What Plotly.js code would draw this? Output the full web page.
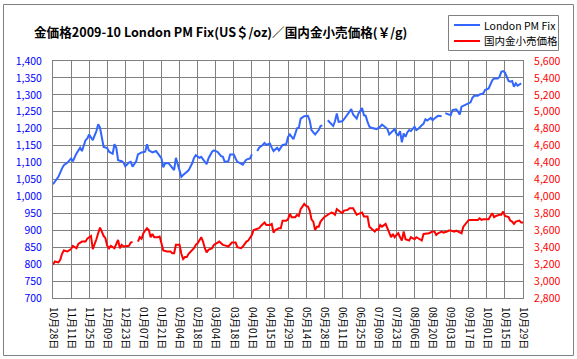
<!DOCTYPE html>
<html><head><meta charset="utf-8">
<script src="https://cdn.plot.ly/plotly-3.0.1.min.js"></script>
<style>html,body{margin:0;padding:0;background:#fff;}#chart{width:577px;height:359px;}</style>
</head><body><div id="chart"></div>
<script>
// x axis: trading-day index, one label every 10 days
const tickLabels = ["10月28日","11月11日","11月25日","12月09日","12月23日","01月07日","01月21日","02月04日","02月18日","03月04日","03月18日","04月01日","04月15日","04月29日","05月14日","05月28日","06月11日","06月25日","07月09日","07月23日","08月06日","08月20日","09月03日","09月17日","10月01日","10月15日","10月29日"];

// London PM Fix (US$/oz): [trading day, price]; null = no fix
const londonFix = [
[0,1036],[3,1058],[5,1083],[6,1092],[8,1100],[10,1112],[11,1104],[13,1127],[15,1144],[16,1134],
[18,1166],[19,1171],[20,1183],[22,1166],[24,1193],[25,1213],[26,1203],[27,1176],[28,1146],[30,1143],
[31,1132],[33,1126],[34,1154],[35,1144],[36,1107],[38,1104],[39,1100],[40,1089],[42,1100],[43,1102],
[44,1088],[46,1104],[47,1124],[49,1130],[51,1132],[52,1154],[53,1136],[55,1130],[57,1134],[58,1127],
[60,1112],[61,1086],[62,1098],[64,1098],[65,1091],[67,1078],[68,1114],[69,1093],[71,1058],[72,1063],
[74,1071],[75,1077],[77,1098],[78,1114],[79,1122],[81,1114],[82,1117],[84,1104],[85,1095],[86,1112],
[88,1132],[89,1136],[91,1132],[93,1119],[94,1117],[95,1102],[97,1104],[98,1124],[100,1124],[101,1112],
[102,1102],[103,1100],[105,1094],[106,1102],[107,1109],[109,1112],[110,1124],[111,null],[113,1134],[114,1144],
[116,1152],[117,1158],[118,1152],[120,1156],[121,1144],[122,1134],[124,1144],[125,1136],[127,1152],[129,1154],
[130,1176],[131,1183],[133,1169],[134,1186],[135,1201],[136,1203],[137,1230],[139,1237],[141,1238],[142,1225],
[143,1196],[144,1189],[145,1183],[147,1196],[148,1208],[149,1210],[150,null],[152,1225],[153,1220],[155,1208],
[156,1222],[157,1245],[158,1220],[160,1222],[161,1228],[162,1235],[164,1251],[165,1258],[166,1242],[168,1230],
[169,1245],[171,1261],[172,1240],[173,1238],[174,1220],[175,1206],[176,1203],[178,1199],[179,1199],[181,1206],
[182,1212],[183,1208],[185,1199],[186,1183],[187,1189],[189,1199],[190,1185],[191,1181],[192,1193],[193,1160],
[194,1186],[195,1176],[196,1189],[197,1196],[198,1193],[200,1206],[201,1196],[202,1199],[204,1210],[205,1215],
[206,1228],[207,1224],[209,1232],[210,1225],[211,1230],[213,1238],[215,1237],[216,null],[217,1246],[219,1242],
[220,1240],[221,1255],[223,1257],[224,1251],[225,1242],[226,1265],[228,1271],[230,1275],[231,1278],[232,1291],
[233,1297],[235,1297],[236,1301],[238,1304],[239,1314],[241,1319],[242,1331],[243,1343],[244,1348],[246,1348],
[247,1353],[248,1368],[249,1370],[250,1366],[252,1341],[253,1339],[254,1341],[255,1324],[256,1334],[257,1327],
[259,1334]
];

// 国内金小売価格 (¥/g): [trading day, price]; null = no price
const retailPrice = [
[0,3192],[1,3231],[3,3220],[4,3251],[5,3322],[6,3361],[8,3349],[10,3377],[11,3416],[13,3388],
[14,3440],[16,3467],[18,3467],[19,3502],[20,3518],[21,3533],[22,3377],[23,3428],[24,3494],[25,3565],
[26,3632],[27,3585],[28,3533],[29,3506],[30,3416],[31,3388],[32,3416],[34,3388],[35,3440],[36,3487],
[37,3388],[38,3428],[39,3408],[40,3408],[42,3416],[43,3455],[44,3463],[45,null],[47,3467],[48,3518],
[49,3500],[50,3565],[51,3597],[52,3624],[53,3604],[54,3518],[55,3557],[56,3518],[58,3518],[59,3526],
[60,3447],[61,3361],[63,3349],[65,3349],[66,3330],[67,3330],[68,3428],[70,3428],[71,3322],[72,3259],
[73,3283],[74,3283],[75,3322],[77,3361],[78,3388],[79,3428],[80,3447],[82,3518],[83,3467],[84,3388],
[85,3338],[86,3369],[88,3388],[89,3428],[90,3440],[92,3467],[93,3447],[94,3428],[96,3416],[97,3408],
[99,3455],[101,3455],[102,3400],[104,3388],[105,3408],[107,3467],[108,3479],[110,3545],[111,3604],[113,3612],
[114,3624],[115,3651],[117,3691],[118,3663],[120,3663],[121,3675],[122,3573],[123,3604],[125,3624],[126,3624],
[127,3714],[129,3714],[130,3730],[131,3795],[132,3755],[134,3755],[135,3783],[136,3769],[137,3849],[139,3911],
[140,3888],[141,3880],[142,3833],[143,3730],[144,3703],[145,3604],[146,3643],[147,3643],[148,3703],[150,3755],
[152,3783],[154,3810],[155,3802],[156,3783],[157,3849],[159,3822],[160,3802],[161,3833],[163,3841],[164,3861],
[166,3861],[167,3822],[168,3783],[170,3802],[171,3810],[172,3763],[174,3763],[175,3643],[176,3624],[178,3585],
[179,3612],[180,3604],[181,3663],[182,3643],[184,3675],[185,3624],[186,3585],[187,3518],[188,3557],[189,3518],
[190,3545],[191,3565],[192,3518],[193,3479],[194,3585],[195,3494],[197,3479],[198,3518],[200,3494],[201,3518],
[202,3506],[204,3479],[205,3557],[207,3565],[208,3565],[210,3585],[211,3585],[212,3545],[213,3565],[215,3585],
[216,3573],[218,3585],[219,3597],[220,3597],[222,3585],[223,3597],[225,3573],[226,3565],[227,3643],[229,3691],
[230,3722],[232,3722],[235,3722],[236,3742],[237,3722],[238,3730],[240,3730],[241,3730],[242,3769],[243,3802],
[244,3755],[245,3769],[247,3783],[248,3783],[249,3822],[250,3769],[252,3755],[253,3714],[254,3703],[255,3675],
[256,3703],[258,3714],[259,3691],[260,3691]
];

const seriesNames = ['London PM Fix', '国内金小売価格'];
const seriesColors = ['#3366FF', '#FF0000'];

const tickDays = tickLabels.map((_, i) => i * 10);
const FONT = '"MS PGothic", "Noto Sans CJK JP", "DejaVu Sans", sans-serif';
const GRID = '#808080';

const W = 577, H = 359, ML = 53, MR = 54, MT = 61, MB = 61;
const pw = W - ML - MR, ph = H - MT - MB;
const px = v => (v - ML) / pw, py = v => (H - MB - v) / ph;

const traces = [
  {x: londonFix.map(d => d[0]), y: londonFix.map(d => d[1]), name: seriesNames[0],
   type: 'scatter', mode: 'lines', line: {color: seriesColors[0], width: 2}, connectgaps: false, yaxis: 'y'},
  {x: retailPrice.map(d => d[0]), y: retailPrice.map(d => d[1]), name: seriesNames[1],
   type: 'scatter', mode: 'lines', line: {color: seriesColors[1], width: 2}, connectgaps: false, yaxis: 'y2'}
];

// hand-built legend box (Excel style), placed in pixel terms
const legendBox = {x0: 448.5, x1: 558.5, y0: 15.5, y1: 50.5};
const legendRows = [25, 41];
const shapes = [
  {type: 'rect', xref: 'paper', yref: 'paper', x0: px(3.5), x1: px(573.5), y0: py(355.5), y1: py(4.5),
   line: {color: GRID, width: 1}, fillcolor: 'rgba(0,0,0,0)', layer: 'below'},
  {type: 'rect', xref: 'paper', yref: 'paper', x0: px(legendBox.x0), x1: px(legendBox.x1),
   y0: py(legendBox.y1), y1: py(legendBox.y0), line: {color: GRID, width: 1}, fillcolor: '#fff', layer: 'above'}
];
const annotations = [];
legendRows.forEach((ry, k) => {
  shapes.push({type: 'line', xref: 'paper', yref: 'paper', x0: px(454), x1: px(480), y0: py(ry), y1: py(ry),
               line: {color: seriesColors[k], width: 2}, layer: 'above'});
  annotations.push({xref: 'paper', yref: 'paper', x: px(482), y: py(ry), xanchor: 'left', yanchor: 'middle',
                    text: seriesNames[k], showarrow: false, font: {family: FONT, size: 10.5, color: '#000'}});
});

const layout = {
  width: W, height: H,
  margin: {l: ML, r: MR, t: MT, b: MB, pad: 0},
  paper_bgcolor: '#fff', plot_bgcolor: '#fff',
  font: {family: FONT, size: 10, color: '#000'},
  title: {text: '<b>金価格2009-10 London PM Fix(US＄/oz)／国内金小売価格(￥/g)</b>',
          font: {family: FONT, size: 12.6, color: '#000'},
          xref: 'container', yref: 'container', x: 34 / W, xanchor: 'left', y: 1 - 33 / H, yanchor: 'middle'},
  showlegend: false,
  xaxis: {range: [0, 260], tickmode: 'array', tickvals: tickDays, ticktext: tickLabels, tickangle: 90,
          showgrid: true, gridcolor: GRID, gridwidth: 1, showline: true, linecolor: GRID, mirror: true,
          zeroline: false, ticks: 'outside', ticklen: 6, tickcolor: 'rgba(0,0,0,0)',
          tickfont: {family: FONT, size: 10, color: '#000'}},
  yaxis: {range: [700, 1400], dtick: 50, tick0: 700, tickformat: ',', showgrid: true, gridcolor: GRID, gridwidth: 1,
          showline: true, linecolor: GRID, mirror: true, zeroline: false, ticks: 'outside', ticklen: 8,
          tickcolor: 'rgba(0,0,0,0)', tickfont: {family: FONT, size: 10.5, color: '#0000FF'}},
  yaxis2: {range: [2800, 5600], dtick: 200, tick0: 2800, tickformat: ',', overlaying: 'y', side: 'right',
           showgrid: false, zeroline: false, showline: false, ticks: 'outside', ticklen: 8,
           tickcolor: 'rgba(0,0,0,0)', tickfont: {family: FONT, size: 10.5, color: '#FF0000'}},
  shapes: shapes,
  annotations: annotations
};

Plotly.newPlot('chart', traces, layout, {displayModeBar: false, staticPlot: true});
</script></body></html>
